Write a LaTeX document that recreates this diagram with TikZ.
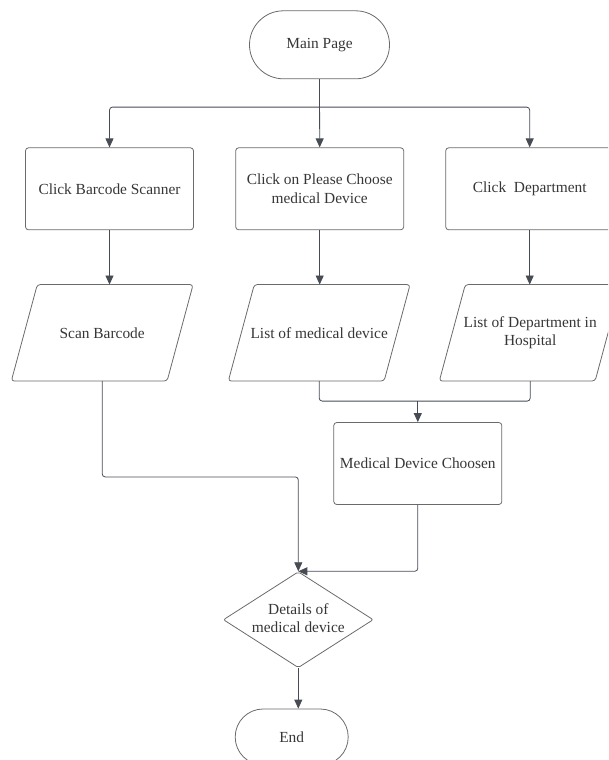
\documentclass[tikz,border=0pt]{standalone}
\usepackage{fontspec}
\setmainfont{Liberation Serif}
\usetikzlibrary{shapes.geometric, arrows.meta, calc}
\definecolor{lnc}{HTML}{474C54}
\definecolor{bdc}{HTML}{6A6A6A}
\definecolor{txc}{HTML}{363636}
\begin{document}
\begin{tikzpicture}[x=1pt,y=-1pt,
  base/.style={draw=bdc, line width=0.8pt, text=txc, font=\fontsize{15.4}{18.3}\selectfont, align=center, inner sep=0pt},
  procbox/.style={base, rectangle, rounded corners=3pt, minimum width=168pt, minimum height=82pt},
  term/.style={base, rectangle, rounded corners=#1},
  iobox/.style={base, draw=none, rectangle, minimum width=181pt, minimum height=95.7pt},
  iooutline/.style={draw=bdc, line width=0.8pt, rounded corners=3pt},
  txtonly/.style={text=txc, font=\fontsize{15.4}{18}\selectfont, align=center, inner sep=0pt},
  conn/.style={draw=lnc, line width=0.8pt, rounded corners=3pt, -{Triangle[length=9pt,width=8pt]}},
  plain/.style={draw=lnc, line width=0.8pt, rounded corners=3pt}
]
\useasboundingbox (0,0) rectangle (608,760);
\clip (0,0) rectangle (608,760);

% nodes
\node[term=33.9pt, minimum width=140pt, minimum height=68pt] (main) at (319.5,44.8) {Main Page};

\node[procbox] (bc) at (109.5,188.8) {Click Barcode Scanner};
\node[procbox] (cp) at (319.7,188.8) {Click on Please Choose\\medical Device};
\node[procbox] (cd) at (529.7,188.8) {Click~ Department};

\node[iobox] (sb) at (102.2,332.8) {Scan Barcode};
\node[iobox] (lm) at (319.2,332.8) {List of medical device};
\node[iobox] (ld) at (530.2,332.8) {List of Department in\\Hospital};
\foreach \n in {sb,lm,ld}
  \draw[iooutline] (\n.north) -- (\n.north east) -- ($(\n.south east)+(-26,0)$)
     -- (\n.south west) -- ($(\n.north west)+(26,0)$) -- cycle;

\node[procbox] (mdc) at (417.8,463.5) {Medical Device Choosen};

\node[base, diamond, rounded corners=2pt, minimum width=150pt, minimum height=96pt] (det) at (298.3,619.7) {};
\node[txtonly] (detl) at (298.3,618.5) {Details of\\medical device};

\node[term=27.9pt, minimum width=113pt, minimum height=56pt] (endn) at (291.7,737) {End};

% connectors
\coordinate (br) at ($(main.south)+(0,27.9)$);
\draw[conn] (main.south) -- (cp.north);
\draw[conn] (br) -| (bc.north);
\draw[conn] (br) -| (cd.north);

\draw[conn] (bc.south) -- (bc.south |- sb.north);
\draw[conn] (cp.south) -- (cp.south |- lm.north);
\draw[conn] (cd.south) -- (cd.south |- ld.north);

\coordinate (jn) at ($(mdc.north)+(0,-21)$);
\draw[plain] (lm.south) |- (jn) -| (ld.south);
\draw[conn] (jn) -- (mdc.north);

\draw[conn] (sb.south) |- ($(det.north)+(0,-94.4)$) -- (det.north);
\draw[conn] (mdc.south) |- (det.north);
\draw[conn] (det.south) -- (det.south |- endn.north);
\end{tikzpicture}
\end{document}
